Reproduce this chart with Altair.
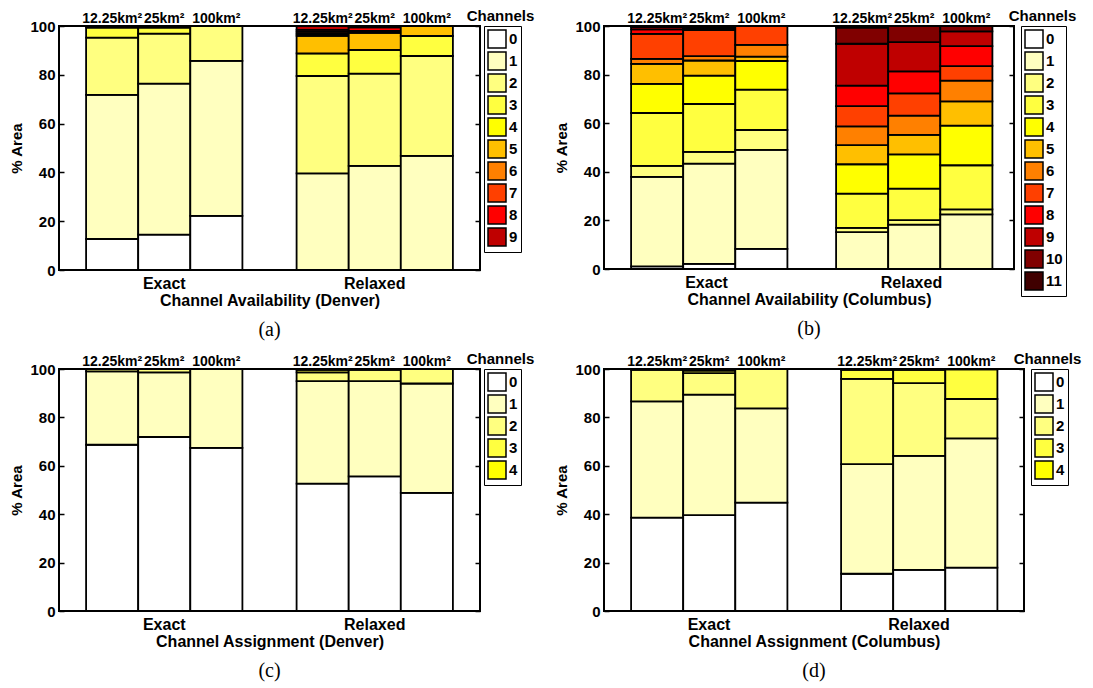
import altair as alt
import pandas as pd

groups = ["Exact", "Relaxed"]
sizes = ["12.25km²", "25km²", "100km²"]
colors = ["#FFFFFF", "#FFFFBF", "#FFFF80", "#FFFF40", "#FFFF00", "#FFBF00",
          "#FF8000", "#FF4000", "#FF0000", "#BF0000", "#800000", "#400000"]
y_ticks = [0, 20, 40, 60, 80, 100]

# % area per number of channels (index = channel count), bars: 12.25, 25, 100 km^2
avail_denver_exact = [
    [12.7, 59.1, 23.4, 4.1, 0.7, 0, 0, 0, 0, 0],
    [14.5, 61.9, 20.5, 2.4, 0.7, 0, 0, 0, 0, 0],
    [22.2, 63.5, 14.3, 0, 0, 0, 0, 0, 0, 0],
]
avail_denver_relaxed = [
    [0, 39.6, 39.9, 9.3, 0, 7.2, 0.8, 0.8, 0.8, 1.6],
    [0, 42.7, 37.8, 9.7, 0, 7.0, 0.4, 0.4, 1.4, 0.6],
    [0, 46.8, 40.9, 8.2, 0, 4.1, 0, 0, 0, 0],
]
avail_columbus_exact = [
    [1.1, 36.8, 4.5, 21.8, 12.0, 8.2, 2.1, 10.3, 1.8, 0.9, 0.5, 0],
    [2.1, 41.3, 4.8, 19.7, 11.7, 6.2, 1.8, 10.7, 0.7, 0.5, 0.5, 0],
    [8.3, 40.7, 8.2, 16.6, 11.8, 1.8, 4.8, 7.8, 0, 0, 0, 0],
]
avail_columbus_relaxed = [
    [0, 15.2, 1.7, 14.1, 12.1, 7.9, 7.7, 8.3, 8.5, 17.2, 6.6, 0.7],
    [0, 18.3, 1.8, 13.0, 14.1, 8.0, 7.9, 9.2, 9.0, 12.1, 6.6, 0],
    [0, 22.5, 2.0, 18.2, 16.3, 10.0, 8.5, 6.0, 8.2, 6.1, 2.2, 0],
]
assign_denver_exact = [
    [68.7, 30.3, 1.0, 0, 0],
    [71.9, 26.7, 1.4, 0, 0],
    [67.4, 32.6, 0, 0, 0],
]
assign_denver_relaxed = [
    [52.6, 42.4, 3.6, 1.0, 0.4],
    [55.6, 39.4, 4.6, 0.4, 0],
    [48.8, 45.2, 6.0, 0, 0],
]
assign_columbus_exact = [
    [38.6, 48.0, 13.1, 0.3, 0],
    [39.6, 49.8, 8.9, 1.0, 0.7],
    [44.8, 38.9, 16.3, 0, 0],
]
assign_columbus_relaxed = [
    [15.4, 45.3, 35.2, 3.8, 0.3],
    [17.0, 47.1, 30.1, 5.5, 0.3],
    [17.9, 53.4, 16.3, 12.3, 0.1],
]

FONT = "Liberation Sans"


def panel(exact, relaxed, nch, xtitle, caption, w, h, legend_w, legend_offset):
    rows = []
    for g, bars in zip(groups, [exact, relaxed]):
        for s, vals in zip(sizes, bars):
            for c in range(nch):
                rows.append({"group": g, "size": s, "ch": str(c), "chn": c, "pct": vals[c]})
    df = pd.DataFrame(rows)
    labels = pd.DataFrame([{"group": g, "size": s} for g in groups for s in sizes])
    domain = [str(c) for c in range(nch)]

    xscale = alt.Scale(paddingInner=0, paddingOuter=0)
    xoscale = alt.Scale(paddingInner=0, paddingOuter=0.52)
    yscale = alt.Scale(domain=[0, 100], nice=False, zero=True)
    xaxis = alt.Axis(title=xtitle, labelAngle=0, domain=False, ticks=False,
                     labelPadding=5, titlePadding=1, labelFontSize=16,
                     titleFontSize=16)
    xenc = alt.X("group:N", sort=groups, scale=xscale, axis=xaxis)
    xoenc = alt.XOffset("size:N", sort=sizes, scale=xoscale)

    bars = alt.Chart(df).mark_bar(stroke="black", strokeWidth=1.8).encode(
        x=xenc,
        xOffset=xoenc,
        y=alt.Y("pct:Q", stack="zero", scale=yscale,
                axis=alt.Axis(title="% Area", orient="left", values=y_ticks, offset=-5,
                              tickSize=5, tickWidth=1.5, tickColor="black", domain=False,
                              labelPadding=4, titlePadding=5, labelFontSize=15,
                              titleFontSize=15, grid=False)),
        color=alt.Color("ch:N", scale=alt.Scale(domain=domain, range=colors[:nch]),
                        legend=alt.Legend(title=None, orient="right", offset=legend_offset,
                                          padding=3,
                                          strokeColor="black", symbolType="square",
                                          symbolSize=324, symbolStrokeColor="black",
                                          symbolStrokeWidth=1.5, symbolOpacity=1,
                                          labelFont=FONT, labelFontWeight="bold",
                                          labelFontSize=15, labelColor="black",
                                          labelOffset=2, rowPadding=-3)),
        order=alt.Order("chn:Q", sort="ascending"),
    )
    right_axis = alt.Chart(df).mark_point(opacity=0).encode(
        x=xenc,
        xOffset=xoenc,
        y=alt.Y("pct:Q", scale=yscale,
                axis=alt.Axis(title=None, orient="right", values=y_ticks, offset=-5,
                              tickSize=5, tickWidth=1.5, tickColor="black", domain=False,
                              labels=False, grid=False)),
    )
    top_labels = alt.Chart(labels).mark_text(
        font=FONT, fontWeight="bold", fontSize=14, baseline="alphabetic", color="black"
    ).encode(
        x=xenc,
        xOffset=xoenc,
        y=alt.value(-3),
        text="size:N",
    )
    chan = alt.Chart(pd.DataFrame({"t": ["Channels"]})).mark_text(
        font=FONT, fontWeight="bold", fontSize=15, baseline="top", color="black"
    ).encode(
        x=alt.value(w + legend_offset + legend_w / 2),
        y=alt.value(-17),
        text="t:N",
    )
    return alt.layer(bars, right_axis, top_labels, chan).resolve_axis(y="independent").properties(
        width=w, height=h,
        title=alt.TitleParams(caption, orient="bottom", font="Liberation Serif",
                              fontSize=20, fontWeight="normal", color="black",
                              offset=12, frame="group", anchor="middle"),
    )


pa = panel(avail_denver_exact, avail_denver_relaxed, 10,
           "Channel Availability (Denver)", "(a)", 421, 244, 35, 3)
pb = panel(avail_columbus_exact, avail_columbus_relaxed, 12,
           "Channel Availability (Columbus)", "(b)", 410, 243, 45, 6)
pc = panel(assign_denver_exact, assign_denver_relaxed, 5,
           "Channel Assignment (Denver)", "(c)", 421, 242, 35, 3)
pd_ = panel(assign_columbus_exact, assign_columbus_relaxed, 5,
            "Channel Assignment (Columbus)", "(d)", 420, 242, 35, 6)

res = dict(x="independent", y="independent", color="independent")
row1 = alt.hconcat(pa, pb, spacing=17).resolve_scale(**res)
row2 = alt.hconcat(pc, pd_, spacing=17).resolve_scale(**res)
chart = alt.vconcat(row1, row2, spacing=10).resolve_scale(**res).properties(
    padding=0
).configure_view(stroke="black", strokeWidth=2).configure_axis(
    labelFont=FONT, labelFontWeight="bold", labelColor="black",
    titleFont=FONT, titleFontWeight="bold", titleColor="black"
)

chart.save("out.html", embed_options={"renderer": "svg", "actions": False})
